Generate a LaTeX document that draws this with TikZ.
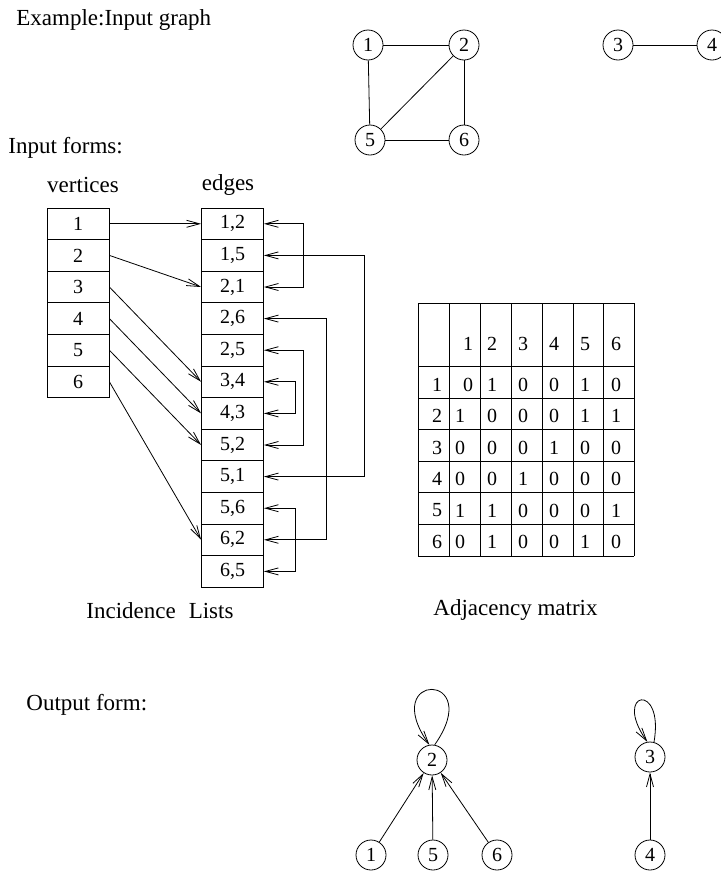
\documentclass[tikz,border=0pt]{standalone}
\usepackage{fontspec}
\setmainfont{Liberation Serif}
\usetikzlibrary{arrows.meta}

\begin{document}
\begin{tikzpicture}[x=0.5pt, y=-0.5pt,
    lbl/.style={font=\fontsize{11.5}{14}\selectfont},
    title/.style={lbl, anchor=west, inner sep=0pt},
    num/.style={font=\fontsize{10}{12}\selectfont},
    vert/.style={circle, draw, minimum size=15pt, inner sep=0pt, num},
    cell/.style={rectangle, draw, minimum width=31pt, minimum height=15.8pt, inner sep=0pt, num},
    barb/.tip={Straight Barb[length=6.5pt,width=3.5pt]},
    link/.style={-barb},
    dlink/.style={barb-barb}]
    \useasboundingbox (0,0) rectangle (721,873);

    % vstupni graf
    \node[title] at (16,20) {Example:Input graph};
    \node[vert] (g1) at (368,45) {1};
    \node[vert] (g2) at (464,45) {2};
    \node[vert] (g5) at (370,140) {5};
    \node[vert] (g6) at (464,140) {6};
    \node[vert] (g3) at (618,45) {3};
    \node[vert] (g4) at (712,45) {4};
    \draw (g1) -- (g2);
    \draw (g1) -- (g5);
    \draw (g2) -- (g5);
    \draw (g2) -- (g6);
    \draw (g5) -- (g6);
    \draw (g3) -- (g4);

    \node[title] at (8,148) {Input forms:};

    % seznamy incidence
    \node[lbl] at (83,185) {vertices};
    \node[lbl] at (228,185) {edges};
    \foreach \i in {1,...,6}
        \node[cell] (v\i) at (78,{192.2+31.6*\i}) {\i};
    \foreach \lab/\nm [count=\i] in {{1,2}/12, {1,5}/15, {2,1}/21, {2,6}/26, {2,5}/25, {3,4}/34,
                                     {4,3}/43, {5,2}/52, {5,1}/51, {5,6}/56, {6,2}/62, {6,5}/65}
        \node[cell] (e\nm) at (232.5,{192.2+31.6*\i}) {\lab};

    \draw[link] (v1.east) -- (e12.west);
    \draw[link] (v2.east) -- (e21.west);
    \draw[link] (v3.east) -- (e34.west);
    \draw[link] (v4.east) -- (e43.west);
    \draw[link] (v5.east) -- (e52.west);
    \draw[link] (v6.east) -- (e62.west);

    % opacne hrany
    \draw[dlink] (e12.east) -- ++(39,0) |- (e21.east);
    \draw[dlink] (e15.east) -- ++(100,0) |- (e51.east);
    \draw[dlink] (e26.east) -- ++(62,0) |- (e62.east);
    \draw[dlink] (e25.east) -- ++(39,0) |- (e52.east);
    \draw[dlink] (e34.east) -- ++(31,0) |- (e43.east);
    \draw[dlink] (e56.east) -- ++(31,0) |- (e65.east);

    \node[title] at (86,611) {Incidence\hspace{6.5pt}Lists};

    % matice sousednosti
    \foreach \x in {418,449,480,511,542,573,603,634}
        \draw (\x,303) -- (\x,556);
    \foreach \y in {303,366,398,429,461,492,524,556}
        \draw (418,\y) -- (634,\y);
    \foreach \c in {1,...,6}
        \node[num] at ({\c==1 ? 468 : 430+31*\c},344) {\c};
    \foreach \row [count=\r] in {{0,1,0,0,1,0},{1,0,0,0,1,1},{0,0,0,1,0,0},
                                 {0,0,1,0,0,0},{1,1,0,0,0,1},{0,1,0,0,1,0}} {
        \node[num] at (437,{353+31.5*\r}) {\r};
        \foreach \val [count=\c] in \row
            \node[num] at ({\c==1 ? (\r==1 ? 468 : 460) : 430+31*\c},{353+31.5*\r}) {\val};
    }
    \node[title] at (433,610) {Adjacency matrix};

    % vystup
    \node[title] at (26,705) {Output form:};
    \node[vert] (o2) at (432,760) {2};
    \node[vert] (o1) at (371,855) {1};
    \node[vert] (o5) at (433,855) {5};
    \node[vert] (o6) at (497,855) {6};
    \node[vert] (o3) at (650,757) {3};
    \node[vert] (o4) at (650,855) {4};
    \draw[link] (o1) -- (o2);
    \draw[link] (o5) -- (o2);
    \draw[link] (o6) -- (o2);
    \draw[link] (o4) -- (o3);
    \draw[link] (o2.80) .. controls +(-55:90) and +(-125:90) .. (o2.100);
    \draw[link] (o3.75) .. controls +(-80:62) and +(-125:62) .. (o3.100);
\end{tikzpicture}
\end{document}
